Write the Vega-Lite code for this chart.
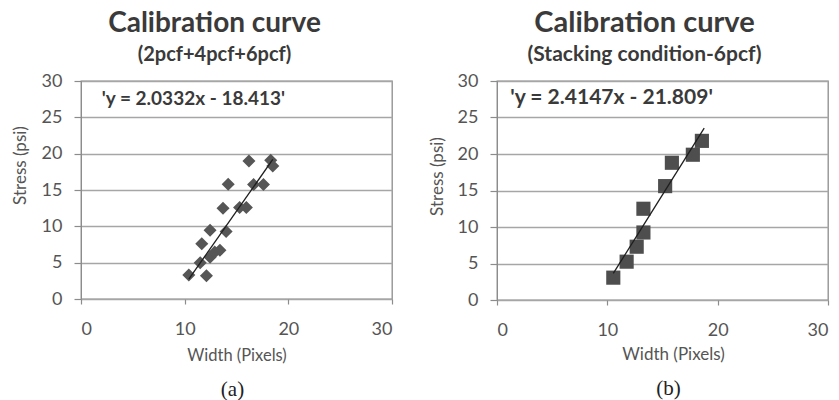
{
  "$schema": "https://vega.github.io/schema/vega-lite/v6.json",
  "background": "white",
  "padding": {"left": 10, "top": 8, "right": 0, "bottom": 0},
  "bounds": "flush",
  "spacing": 105,
  "datasets": {
    "a_points": [
      {"width": 10.4, "stress": 3.3},
      {"width": 12.1, "stress": 3.2},
      {"width": 11.5, "stress": 5.0},
      {"width": 12.45, "stress": 5.75},
      {"width": 12.9, "stress": 6.45},
      {"width": 13.4, "stress": 6.7},
      {"width": 11.65, "stress": 7.6},
      {"width": 12.45, "stress": 9.45},
      {"width": 14.0, "stress": 9.3},
      {"width": 13.7, "stress": 12.5},
      {"width": 15.3, "stress": 12.6},
      {"width": 15.95, "stress": 12.6},
      {"width": 14.2, "stress": 15.8},
      {"width": 16.65, "stress": 15.75},
      {"width": 17.6, "stress": 15.75},
      {"width": 16.2, "stress": 19.0},
      {"width": 18.3, "stress": 19.1},
      {"width": 18.5, "stress": 18.3}
    ],
    "a_line": [
      {"width": 10.4, "stress": 2.73},
      {"width": 18.5, "stress": 19.2}
    ],
    "a_eq": [
      {"width": 2.0, "stress": 27.5, "label": "'y = 2.0332x - 18.413'"}
    ],
    "b_points": [
      {"width": 10.54, "stress": 3.06},
      {"width": 11.75, "stress": 5.25},
      {"width": 12.66, "stress": 7.3},
      {"width": 13.27, "stress": 9.25},
      {"width": 13.27, "stress": 12.5},
      {"width": 15.24, "stress": 15.6},
      {"width": 15.85, "stress": 18.8},
      {"width": 17.75, "stress": 19.9},
      {"width": 18.57, "stress": 21.8}
    ],
    "b_line": [
      {"width": 10.54, "stress": 3.64},
      {"width": 18.78, "stress": 23.54}
    ],
    "b_eq": [
      {"width": 1.2, "stress": 27.7, "label": "'y = 2.4147x - 21.809'"}
    ]
  },
  "hconcat": [
    {
      "width": 311,
      "height": 218,
      "title": {
        "text": "Calibration curve",
        "subtitle": "(2pcf+4pcf+6pcf)",
        "anchor": "middle",
        "dx": -22,
        "font": "Lato",
        "fontSize": 28,
        "fontWeight": "bold",
        "color": "#3a3a3a",
        "subtitleFont": "Lato",
        "subtitleFontSize": 20,
        "subtitleFontWeight": "bold",
        "subtitleColor": "#3a3a3a",
        "subtitlePadding": 7,
        "offset": 7
      },
      "resolve": {"axis": {"x": "independent"}},
      "layer": [
        {
          "data": {"name": "a_points"},
          "mark": {"type": "point", "shape": "diamond", "filled": true, "size": 170, "color": "#565656", "opacity": 1},
          "encoding": {
            "x": {
              "field": "width", "type": "quantitative",
              "scale": {"domain": [0, 30], "nice": false},
              "axis": {"orient": "bottom", "title": "Width (Pixels)", "values": [0, 10, 20, 30], "grid": false, "tickSize": 5, "labelPadding": 16, "labelFontSize": 18, "titleFontSize": 16.5, "titleFontWeight": "normal", "titleY": 56, "titleBaseline": "middle", "domain": false}
            },
            "y": {
              "field": "stress", "type": "quantitative",
              "scale": {"domain": [0, 30], "nice": false},
              "axis": {"title": "Stress (psi)", "values": [0, 5, 10, 15, 20, 25, 30], "grid": true, "tickSize": 7, "labelPadding": 12, "labelFontSize": 18, "titleFontSize": 17, "titleFontWeight": "normal", "titleX": -61, "titleY": 84, "titleBaseline": "middle", "titleAngle": -90}
            }
          }
        },
        {
          "data": {"name": "a_line"},
          "mark": {"type": "line", "color": "#1e1e1e", "strokeWidth": 1.3},
          "encoding": {
            "x": {
              "field": "width", "type": "quantitative",
              "scale": {"domain": [0, 30], "nice": false},
              "axis": {"orient": "bottom", "title": "(a)", "labels": false, "ticks": false, "domain": false, "grid": false, "titleFont": "Liberation Serif", "titleFontSize": 21, "titleFontWeight": "normal", "titleColor": "#222222", "titleY": 90, "titleX": 151, "titleBaseline": "middle"}
            },
            "y": {
              "field": "stress", "type": "quantitative",
              "scale": {"domain": [0, 30], "nice": false},
              "axis": {"title": "Stress (psi)", "values": [0, 5, 10, 15, 20, 25, 30], "grid": true, "tickSize": 7, "labelPadding": 12, "labelFontSize": 18, "titleFontSize": 17, "titleFontWeight": "normal", "titleX": -61, "titleY": 84, "titleBaseline": "middle", "titleAngle": -90}
            }
          }
        },
        {
          "data": {"name": "a_eq"},
          "mark": {"type": "text", "align": "left", "baseline": "middle", "font": "Lato", "fontSize": 19, "fontWeight": "bold", "color": "#3a3a3a"},
          "encoding": {
            "x": {"field": "width", "type": "quantitative", "scale": {"domain": [0, 30], "nice": false}, "axis": null},
            "y": {
              "field": "stress", "type": "quantitative",
              "scale": {"domain": [0, 30], "nice": false},
              "axis": {"title": "Stress (psi)", "values": [0, 5, 10, 15, 20, 25, 30], "grid": true, "tickSize": 7, "labelPadding": 12, "labelFontSize": 18, "titleFontSize": 17, "titleFontWeight": "normal", "titleX": -61, "titleY": 84, "titleBaseline": "middle", "titleAngle": -90}
            },
            "text": {"field": "label"}
          }
        }
      ]
    },
    {
      "width": 331,
      "height": 219,
      "title": {
        "text": "Calibration curve",
        "subtitle": "(Stacking condition-6pcf)",
        "anchor": "middle",
        "dx": -18,
        "font": "Lato",
        "fontSize": 29,
        "fontWeight": "bold",
        "color": "#3a3a3a",
        "subtitleFont": "Lato",
        "subtitleFontSize": 21,
        "subtitleFontWeight": "bold",
        "subtitleColor": "#3a3a3a",
        "subtitlePadding": 6,
        "offset": 7
      },
      "resolve": {"axis": {"x": "independent"}},
      "layer": [
        {
          "data": {"name": "b_points"},
          "mark": {"type": "point", "shape": "square", "filled": true, "size": 200, "color": "#4e4e4e", "opacity": 1},
          "encoding": {
            "x": {
              "field": "width", "type": "quantitative",
              "scale": {"domain": [0, 30], "nice": false},
              "axis": {"orient": "bottom", "title": "Width (Pixels)", "values": [0, 10, 20, 30], "grid": false, "tickSize": 5, "labelPadding": 16, "labelFontSize": 18, "titleFontSize": 17, "titleFontWeight": "normal", "titleY": 54, "titleX": 176, "titleBaseline": "middle", "domain": false}
            },
            "y": {
              "field": "stress", "type": "quantitative",
              "scale": {"domain": [0, 30], "nice": false},
              "axis": {"title": "Stress (psi)", "values": [0, 5, 10, 15, 20, 25, 30], "grid": true, "tickSize": 7, "labelPadding": 12, "labelFontSize": 18, "titleFontSize": 17, "titleFontWeight": "normal", "titleX": -60, "titleY": 95, "titleBaseline": "middle", "titleAngle": -90}
            }
          }
        },
        {
          "data": {"name": "b_line"},
          "mark": {"type": "line", "color": "#1e1e1e", "strokeWidth": 1.3},
          "encoding": {
            "x": {
              "field": "width", "type": "quantitative",
              "scale": {"domain": [0, 30], "nice": false},
              "axis": {"orient": "bottom", "title": "(b)", "labels": false, "ticks": false, "domain": false, "grid": false, "titleFont": "Liberation Serif", "titleFontSize": 21, "titleFontWeight": "normal", "titleColor": "#222222", "titleY": 88, "titleX": 171, "titleBaseline": "middle"}
            },
            "y": {
              "field": "stress", "type": "quantitative",
              "scale": {"domain": [0, 30], "nice": false},
              "axis": {"title": "Stress (psi)", "values": [0, 5, 10, 15, 20, 25, 30], "grid": true, "tickSize": 7, "labelPadding": 12, "labelFontSize": 18, "titleFontSize": 17, "titleFontWeight": "normal", "titleX": -60, "titleY": 95, "titleBaseline": "middle", "titleAngle": -90}
            }
          }
        },
        {
          "data": {"name": "b_eq"},
          "mark": {"type": "text", "align": "left", "baseline": "middle", "font": "Lato", "fontSize": 21, "fontWeight": "bold", "color": "#3a3a3a"},
          "encoding": {
            "x": {"field": "width", "type": "quantitative", "scale": {"domain": [0, 30], "nice": false}, "axis": null},
            "y": {
              "field": "stress", "type": "quantitative",
              "scale": {"domain": [0, 30], "nice": false},
              "axis": {"title": "Stress (psi)", "values": [0, 5, 10, 15, 20, 25, 30], "grid": true, "tickSize": 7, "labelPadding": 12, "labelFontSize": 18, "titleFontSize": 17, "titleFontWeight": "normal", "titleX": -60, "titleY": 95, "titleBaseline": "middle", "titleAngle": -90}
            },
            "text": {"field": "label"}
          }
        }
      ]
    }
  ],
  "config": {
    "view": {"stroke": "#8c8c8c", "strokeWidth": 1.3},
    "axis": {
      "labelFont": "Lato",
      "titleFont": "Lato",
      "labelColor": "#555555",
      "titleColor": "#555555",
      "gridColor": "#a6a6a6",
      "gridWidth": 1.3,
      "domainColor": "#8c8c8c",
      "tickColor": "#8c8c8c",
      "tickWidth": 1.2
    }
  }
}
